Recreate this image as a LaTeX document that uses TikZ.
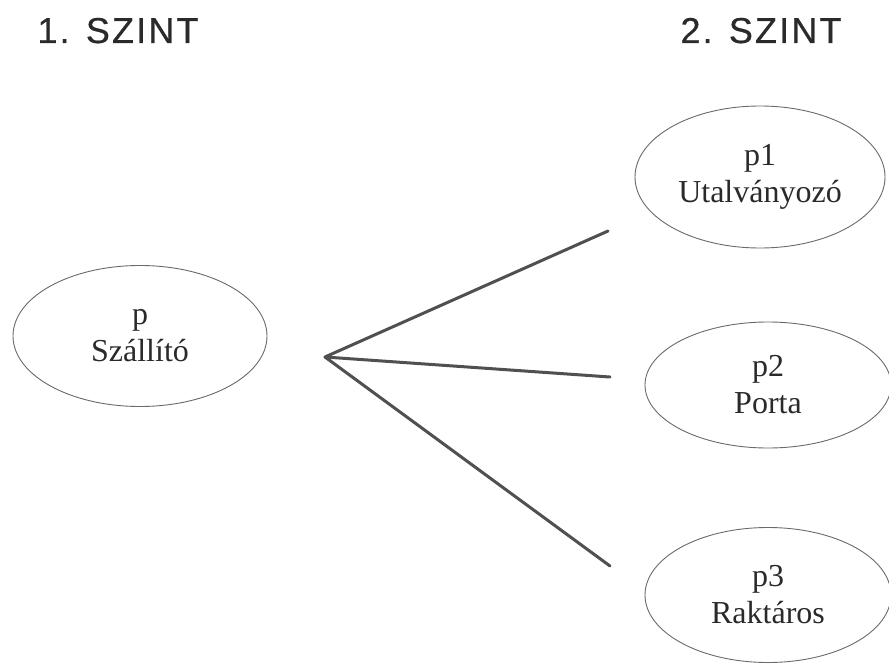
\documentclass[tikz,border=0pt]{standalone}
\usepackage{fontspec}
\setmainfont{Liberation Serif}
\newfontfamily\levelfont{Liberation Sans}[LetterSpace=6,FakeBold=0.5]
\usetikzlibrary{shapes.geometric}
\definecolor{ink}{HTML}{2A2A2A}
\definecolor{rim}{HTML}{6A6A6A}
\definecolor{spoke}{HTML}{505050}
\begin{document}
\begin{tikzpicture}[x=1pt,y=-1pt,
  role/.style={ellipse,draw=rim,line width=0.9pt,inner sep=0pt,
    text=ink,align=center,font=\fontsize{32}{37}\selectfont},
  level/.style={text=ink,anchor=base,font=\levelfont\fontsize{36}{40}\selectfont},
  link/.style={draw=spoke,line width=3pt,line cap=round}]
  \useasboundingbox (0,0) rectangle (889,666);
  \clip (0,0) rectangle (889,666);
  \fill[white] (0,0) rectangle (889,666);

  % level headings
  \node[level] (l1) at (118,43) {1. SZINT};
  \node[level] (l2) at (761,43) {2. SZINT};

  % processes
  \node[role,minimum width=254pt,minimum height=141pt] (p)  at (140,336) {p\\Szállító};
  \node[role,minimum width=250pt,minimum height=142pt] (p1) at (760,177) {p1\\Utalványozó};
  \node[role,minimum width=246pt,minimum height=126pt] (p2) at (768,385) {p2\\Porta};
  \node[role,minimum width=246pt,minimum height=135pt] (p3) at (768,595) {p3\\Raktáros};

  % decomposition fan
  \coordinate (hub) at (325,357);
  \coordinate (e1) at (608,231);
  \coordinate (e2) at (610,377);
  \coordinate (e3) at (610,566);
  \draw[link] (hub) -- (e1);
  \draw[link] (hub) -- (e2);
  \draw[link] (hub) -- (e3);
\end{tikzpicture}
\end{document}
